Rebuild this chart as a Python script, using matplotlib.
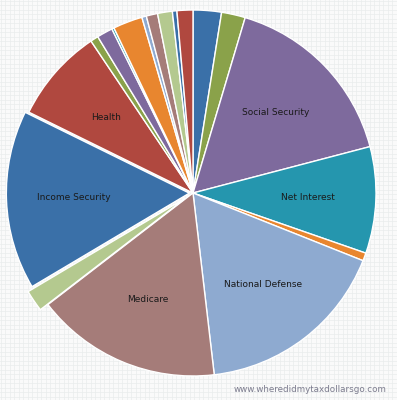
import matplotlib
matplotlib.use("Agg")
import matplotlib.pyplot as plt
import numpy as np

# Budget share (percent), clockwise from 12 o'clock
categories = ["", "", "Social Security", "Net Interest", "", "National Defense",
              "Medicare", "", "Income Security", "Health",
              "", "", "", "", "", "", "", "", ""]
values = [2.5, 2.1, 16.3, 9.4, 0.7, 17.1, 16.4, 1.9, 15.8, 8.3,
          0.7, 1.4, 0.2, 2.6, 0.4, 1.0, 1.3, 0.4, 1.4]
colors = ["#3a70a8", "#8aa24a", "#7e6a9d", "#2596ae", "#e8862f", "#8eaad0",
          "#a57c79", "#b4c98f", "#3a70a8", "#b0483f",
          "#8aa24a", "#7e6a9d", "#2596ae", "#e8862f", "#8eaad0", "#a57c79",
          "#b4c98f", "#3a70a8", "#b0483f"]
explode = [0, 0, 0, 0, 0, 0, 0, 0.05, 0.02, 0,
           0, 0, 0, 0, 0, 0, 0, 0, 0]
watermark = "www.wheredidmytaxdollarsgo.com"

W, H = 397, 400
fig = plt.figure(figsize=(W / 100, H / 100), dpi=100)
fig.patch.set_facecolor("#fafafa")

# graph-paper background
bg = fig.add_axes([0, 0, 1, 1])
bg.set_xlim(0, W)
bg.set_ylim(H, 0)
bg.set_facecolor("#fafafa")
for x in np.arange(0.5, W, 4.5):
    bg.axvline(x, color="#e9ecec", lw=0.5)
for y in np.arange(0.5, H, 4.5):
    bg.axhline(y, color="#e9ecec", lw=0.5)
bg.axis("off")

cx, cy, r = 193, 193, 183
ax = fig.add_axes([(cx - r) / W, (H - cy - r) / H, 2 * r / W, 2 * r / H])

wedges, texts = ax.pie(values, labels=categories, colors=colors, explode=explode,
                       startangle=90, counterclock=False, labeldistance=0.63,
                       radius=1.0,
                       wedgeprops=dict(edgecolor="white", linewidth=1.0),
                       textprops=dict(fontsize=6.5, color="#1a1a1a",
                                      ha="center", va="center"))
for w in wedges:
    w.set_clip_on(False)
for t in texts:
    t.set_ha("center")
    t.set_va("center")
ax.set_aspect("auto")
ax.set_xlim(-1, 1)
ax.set_ylim(-1, 1)
ax.axis("off")

fig.text(386 / W, 1 - 389 / H, watermark, ha="right", va="center",
         fontsize=6.3, color="#7d7d8f")

fig.savefig("out.png", dpi=100, facecolor=fig.get_facecolor())
